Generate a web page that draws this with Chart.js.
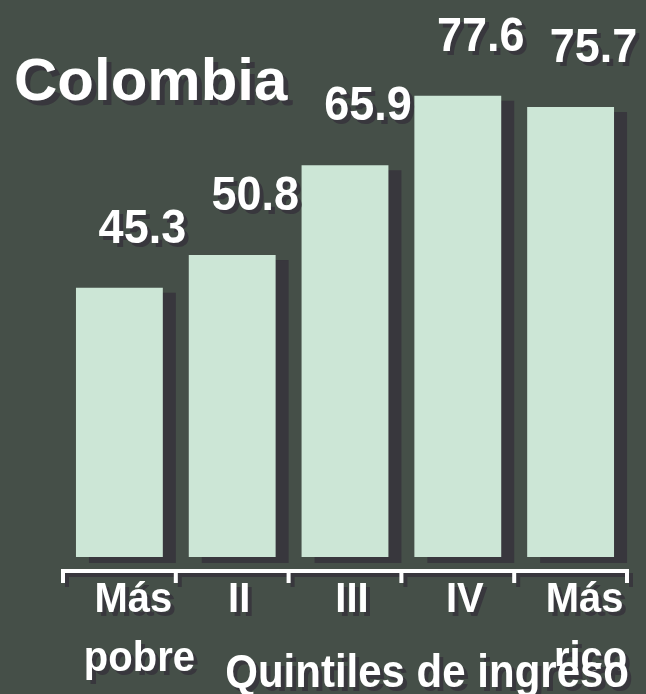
<!DOCTYPE html>
<html>
<head>
<meta charset="utf-8">
<script src="https://cdn.jsdelivr.net/npm/chart.js@4"></script>
<style>
  html, body { margin: 0; padding: 0; background: #454f48; }
  #wrap { width: 646px; height: 694px; }
</style>
</head>
<body>
<div id="wrap"><canvas id="chart" width="646" height="694"></canvas></div>
<script>
// ===== data =====
const country = 'Colombia';
const axisTitle = 'Quintiles de ingreso';
const categories = [['Más', 'pobre'], 'II', 'III', 'IV', ['Más', 'rico']];
const values = [45.3, 50.8, 65.9, 77.6, 75.7];

const BG = '#454f48';
const BAR = '#cce6d6';
const SHADOW = '#38373d';
const FONT = '"Liberation Sans", Arial, sans-serif';

// texto blanco con sombra; sy estira un poco en vertical (letra condensada del original)
function shadowText(ctx, text, x, y, off, sy = 1) {
    ctx.save();
    ctx.translate(x, y);
    ctx.scale(1, sy);
    ctx.fillStyle = SHADOW;
    ctx.fillText(text, off, off / sy);
    ctx.fillStyle = '#ffffff';
    ctx.fillText(text, 0, 0);
    ctx.restore();
}

const decor = {
    id: 'decor',
    beforeDraw(chart) {
        const ctx = chart.ctx;
        ctx.save();
        ctx.fillStyle = BG;
        ctx.fillRect(0, 0, chart.width, chart.height);
        ctx.restore();
    },
    beforeDatasetsDraw(chart) {
        // sombra detrás de cada barra
        const ctx = chart.ctx;
        ctx.save();
        ctx.fillStyle = SHADOW;
        chart.getDatasetMeta(0).data.forEach(bar => {
            const w = bar.width;
            ctx.fillRect(bar.x - w / 2 + 13, bar.y + 5, w, bar.base - bar.y + 1);
        });
        ctx.restore();
    },
    afterDatasetsDraw(chart) {
        const ctx = chart.ctx;
        const xs = chart.scales.x;
        const area = chart.chartArea;
        ctx.save();

        // valores
        ctx.font = 'bold 45px ' + FONT;
        ctx.textAlign = 'center';
        ctx.textBaseline = 'alphabetic';
        chart.getDatasetMeta(0).data.forEach((bar, i) => {
            shadowText(ctx, values[i].toFixed(1), bar.x + 23, bar.y - 45, 4, 1.08);
        });

        // eje con corchetes
        const ay = area.bottom + 14;
        const step = xs.width / categories.length;
        const drawAxis = (dx, dy, color) => {
            ctx.strokeStyle = color;
            ctx.lineWidth = 4;
            ctx.beginPath();
            ctx.moveTo(xs.left + dx, ay + dy);
            ctx.lineTo(xs.right + dx, ay + dy);
            for (let i = 0; i <= categories.length; i++) {
                const tx = xs.left + i * step;
                ctx.moveTo(tx + dx, ay + dy - 2);
                ctx.lineTo(tx + dx, ay + dy + 12);
            }
            ctx.stroke();
        };
        drawAxis(4, 4, SHADOW);
        drawAxis(0, 0, '#ffffff');

        // etiquetas de categoría
        ctx.font = 'bold 40px ' + FONT;
        categories.forEach((lab, i) => {
            const c = xs.getPixelForValue(i);
            const lines = Array.isArray(lab) ? lab : [lab];
            lines.forEach((ln, k) => {
                const shift = lines.length > 1 ? 14 + k * 6 : 7;
                shadowText(ctx, ln, c + shift, area.bottom + 55 + k * 59, 4, 1.08);
            });
        });

        // título del eje (encima de "rico", como en el original)
        ctx.font = 'bold 42px ' + FONT;
        ctx.textAlign = 'right';
        shadowText(ctx, axisTitle, xs.right + 2, area.bottom + 130, 4, 1.1);

        // país
        ctx.font = 'bold 60px ' + FONT;
        ctx.textAlign = 'left';
        shadowText(ctx, country, 14, 100, 5);

        ctx.restore();
    }
};

new Chart(document.getElementById('chart').getContext('2d'), {
    type: 'bar',
    data: {
        labels: categories,
        datasets: [{
            data: values,
            backgroundColor: BAR,
            borderWidth: 0,
            barPercentage: 0.77,
            categoryPercentage: 1
        }]
    },
    options: {
        responsive: false,
        animation: false,
        layout: { padding: { left: 63, right: 19, top: 22, bottom: 137 } },
        plugins: {
            legend: { display: false },
            tooltip: { enabled: false }
        },
        scales: {
            x: { display: false },
            y: { display: false, min: 0, max: 90 }
        }
    },
    plugins: [decor]
});
</script>
</body>
</html>
